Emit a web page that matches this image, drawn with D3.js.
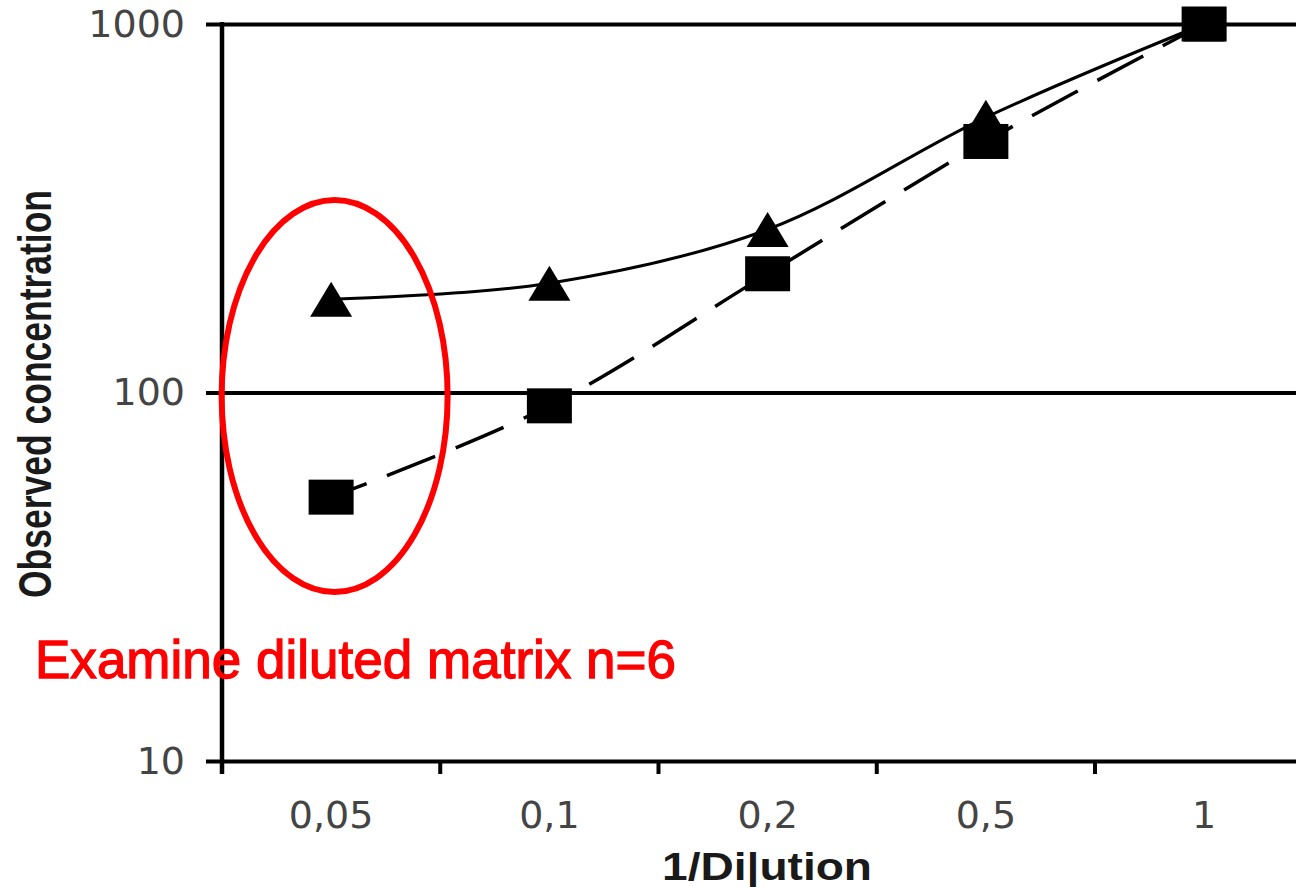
<!DOCTYPE html>
<html>
<head>
<meta charset="utf-8">
<script src="https://cdn.jsdelivr.net/npm/d3@7"></script>
<style>
  html, body { margin: 0; padding: 0; background: #fff; overflow: hidden; }
  svg { display: block; }
</style>
</head>
<body>
<div id="chart"></div>
<script>
// dilution steps (x categories)
const dilutions = ["0,05", "0,1", "0,2", "0,5", "1"];
// observed concentration, triangle series (solid line)
const triangleValues = [179, 198, 277, 558, 1000];
// observed concentration, square series (dashed line)
const squareValues = [52, 92, 210, 480, 1000];
// y tick labels (log axis)
const yTicks = [10, 100, 1000];

const W = 1296, H = 887;
const plotLeft = 222, plotRight = 1313.25, plotTop = 24, plotBottom = 761;

let svg = d3.select("#chart").append("svg")
            .attr("width", W)
            .attr("height", H);

let x = d3.scaleBand()
          .domain(dilutions)
          .range([plotLeft, plotRight])
          .paddingInner(0)
          .paddingOuter(0);

let y = d3.scaleLog()
          .domain([10, 1000])
          .range([plotBottom, plotTop]);

// y axis: labels, outward ticks and grid lines
let yAxis = svg.append("g")
               .attr("transform", "translate(" + plotLeft + ",0)")
               .call(d3.axisLeft(y)
                       .tickValues(yTicks)
                       .tickFormat(d3.format("d"))
                       .tickSize(16)
                       .tickPadding(21));
yAxis.select(".domain").remove();
yAxis.selectAll(".tick line")
     .attr("x1", -16)
     .attr("x2", W)
     .attr("stroke", "black")
     .attr("stroke-width", 4);
yAxis.selectAll(".tick text")
     .style("font", "38px 'DejaVu Sans'")
     .attr("fill", "#444");

// x axis: labels at category centres
let xAxis = svg.append("g")
               .attr("transform", "translate(0," + plotBottom + ")")
               .call(d3.axisBottom(x).tickSize(0).tickPadding(40));
xAxis.select(".domain").remove();
xAxis.selectAll(".tick text")
     .style("font", "38px 'DejaVu Sans'")
     .attr("fill", "#444");

// x tick marks on category boundaries
svg.append("g").selectAll("line")
   .data(dilutions)
   .join("line")
   .attr("x1", d => x(d))
   .attr("x2", d => x(d))
   .attr("y1", plotBottom)
   .attr("y2", plotBottom + 13)
   .attr("stroke", "black")
   .attr("stroke-width", 4);

// vertical axis line
svg.append("line")
   .attr("x1", plotLeft).attr("x2", plotLeft)
   .attr("y1", y(1000) - 2).attr("y2", plotBottom + 13)
   .attr("stroke", "black")
   .attr("stroke-width", 4.5);

// axis titles
svg.append("text")
   .attr("transform", "translate(51,394) rotate(-90)")
   .attr("text-anchor", "middle")
   .attr("textLength", 408)
   .attr("lengthAdjust", "spacingAndGlyphs")
   .style("font", "bold 47px 'Liberation Sans'")
   .attr("fill", "#1a1a1a")
   .text("Observed concentration");

svg.append("text")
   .attr("x", 767)
   .attr("y", 880)
   .attr("text-anchor", "middle")
   .attr("textLength", 210)
   .attr("lengthAdjust", "spacingAndGlyphs")
   .style("font", "bold 38px 'Liberation Sans'")
   .attr("fill", "#1a1a1a")
   .text("1/Di|ution");

// series lines
let cx = d => x(d) + x.bandwidth() / 2;
let line = d3.line()
             .x(d => cx(d.cat))
             .y(d => y(d.v))
             .curve(d3.curveCatmullRom.alpha(0.5));

let triData = dilutions.map((c, i) => ({cat: c, v: triangleValues[i]}));
let sqData = dilutions.map((c, i) => ({cat: c, v: squareValues[i]}));

svg.append("path")
   .datum(sqData)
   .attr("d", line)
   .attr("fill", "none")
   .attr("stroke", "black")
   .attr("stroke-width", 3.5)
   .attr("stroke-dasharray", "52 22")
   .attr("stroke-dashoffset", 14);

svg.append("path")
   .datum(triData)
   .attr("d", line)
   .attr("fill", "none")
   .attr("stroke", "black")
   .attr("stroke-width", 3);

// markers
svg.append("g").selectAll("path")
   .data(triData)
   .join("path")
   .attr("d", "M0,-17.5L21,17.5L-21,17.5Z")
   .attr("transform", d => "translate(" + cx(d.cat) + "," + y(d.v) + ")")
   .attr("fill", "black");

svg.append("g").selectAll("rect")
   .data(sqData)
   .join("rect")
   .attr("x", d => cx(d.cat) - 22.5)
   .attr("y", d => y(d.v) - 17.5)
   .attr("width", 45)
   .attr("height", 35)
   .attr("fill", "black");

// annotation
svg.append("ellipse")
   .attr("cx", cx(dilutions[0]) + 3.5)
   .attr("cy", 396)
   .attr("rx", 113)
   .attr("ry", 196)
   .attr("fill", "none")
   .attr("stroke", "#ff0000")
   .attr("stroke-width", 6);

svg.append("text")
   .attr("x", 35)
   .attr("y", 678)
   .attr("textLength", 641)
   .attr("lengthAdjust", "spacingAndGlyphs")
   .style("font", "54px 'Liberation Sans'")
   .attr("fill", "#ff0000")
   .attr("stroke", "#ff0000")
   .attr("stroke-width", 1.3)
   .text("Examine diluted matrix n=6");
</script>
</body>
</html>
